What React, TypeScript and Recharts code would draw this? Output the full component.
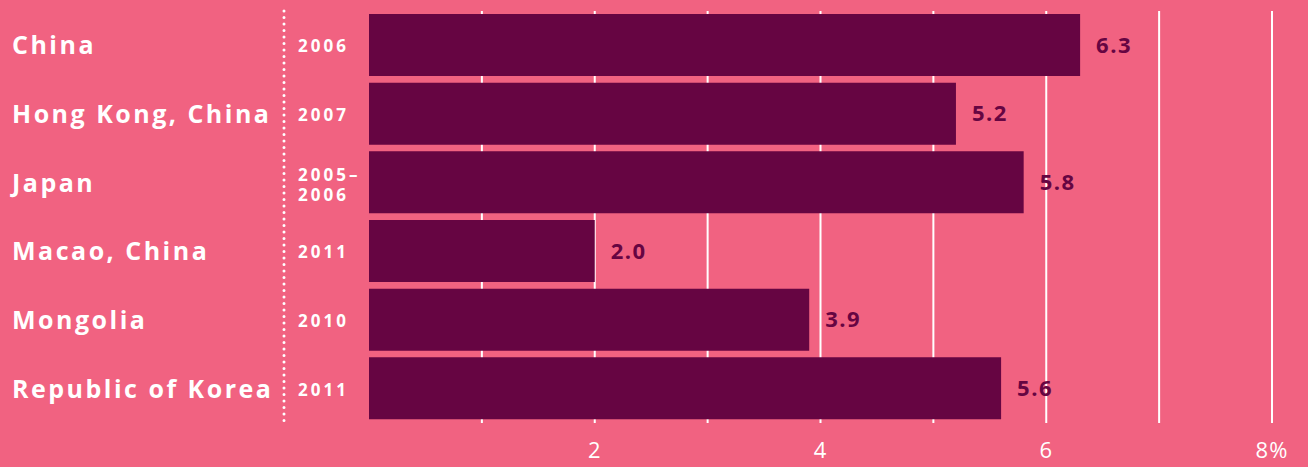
import { BarChart, Bar, XAxis, YAxis, CartesianGrid, LabelList } from "recharts";

const countries = ["China", "Hong Kong, China", "Japan", "Macao, China", "Mongolia", "Republic of Korea"];
const surveyYears = [["2006"], ["2007"], ["2005–", "2006"], ["2011"], ["2010"], ["2011"]];
const rates = [6.3, 5.2, 5.8, 2.0, 3.9, 5.6];
const xTicks = [1, 2, 3, 4, 5, 6, 7, 8];
const xTickLabels: Record<number, string> = { 2: "2", 4: "4", 6: "6", 8: "8%" };

const data = countries.map((name, i) => ({ name, rate: rates[i], years: surveyYears[i] }));

const BG = "#F16281";
const DARK = "#660542";
const FONT = "'Open Sans', sans-serif";

function CountryTick({ y, payload }: any) {
  return (
    <text x={12} y={y} dy={9} fill="#fff" fontSize={25} fontWeight={700} letterSpacing={2.5} fontFamily={FONT}>
      {payload.value}
    </text>
  );
}

function YearTick({ y, payload }: any) {
  const idx = countries.indexOf(payload.value);
  const lines = surveyYears[idx] || [];
  const start = lines.length > 1 ? -2 : 7;
  return (
    <text x={298} y={y} fill="#fff" fontSize={17} fontWeight={700} letterSpacing={3} fontFamily={FONT}>
      {lines.map((l, i) => (
        <tspan key={i} x={298} dy={i === 0 ? start : 20}>
          {l}
        </tspan>
      ))}
    </text>
  );
}

function ValueTick({ x, y, payload }: any) {
  const label = xTickLabels[payload.value];
  if (!label) return null;
  return (
    <text x={x} y={y} dy={27} textAnchor="middle" fill="#fff" fontSize={22} letterSpacing={1} fontFamily={FONT}>
      {label}
    </text>
  );
}

export default function App() {
  return (
    <div style={{ position: "absolute", left: 0, top: 0, width: 1308, height: 467, background: BG }}>
      <BarChart
        width={1308}
        height={467}
        data={data}
        layout="vertical"
        margin={{ top: 11, right: 36, bottom: 0, left: 0 }}
        barSize={62}
      >
        <CartesianGrid horizontal={false} stroke="#fff" strokeWidth={2} verticalValues={xTicks} />
        <XAxis
          type="number"
          domain={[0, 8]}
          ticks={xTicks}
          height={44}
          axisLine={false}
          tickLine={false}
          tick={<ValueTick />}
          interval={0}
        />
        <YAxis
          yAxisId="a-year"
          type="category"
          dataKey="name"
          width={85}
          axisLine={false}
          tickLine={false}
          tick={<YearTick />}
          interval={0}
        />
        <YAxis
          yAxisId="b-country"
          type="category"
          dataKey="name"
          width={284}
          axisLine={{ stroke: "#fff", strokeWidth: 3, strokeDasharray: "0 6.5", strokeLinecap: "round" }}
          tickLine={false}
          tick={<CountryTick />}
          interval={0}
        />
        <Bar dataKey="rate" yAxisId="a-year" fill={DARK} isAnimationActive={false}>
          <LabelList
            dataKey="rate"
            position="right"
            offset={16}
            formatter={(v: any) => Number(v).toFixed(1)}
            fill={DARK}
            fontSize={22}
            fontWeight={700}
            letterSpacing={1.5}
            fontFamily={FONT}
          />
        </Bar>
      </BarChart>
    </div>
  );
}
